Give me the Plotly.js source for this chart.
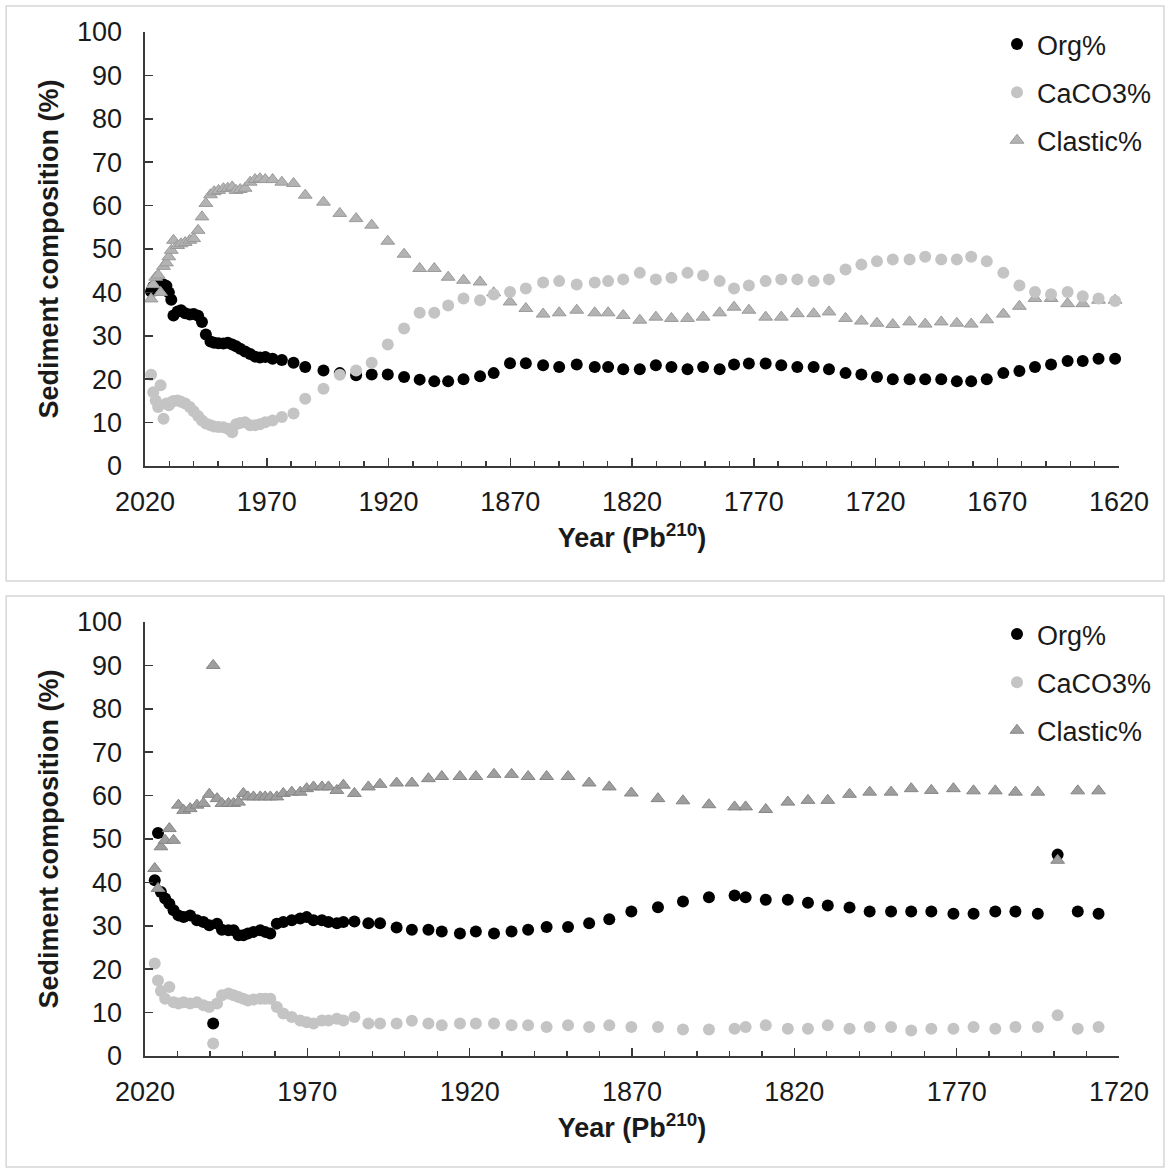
<!DOCTYPE html>
<html>
<head>
<meta charset="utf-8">
<script src="https://cdn.plot.ly/plotly-3.0.1.min.js"></script>
<style>
  html, body { margin: 0; padding: 0; background: #ffffff; }
  #chart { width: 1168px; height: 1170px; }
</style>
</head>
<body>
<div id="chart"></div>
<script>
// ---- Core 1 (upper panel), Pb-210 dated years and sediment composition ----
const coreAYears = [
  2017.5, 2016.6, 2015.6, 2014.6, 2013.6, 2012.4, 2011.2, 2010.2, 2009.2, 2008.3,
  2006.6, 2005.2, 2003.5, 2001.6, 2000.0, 1998.2, 1996.6, 1995.0, 1993.1, 1991.6,
  1989.8, 1987.8, 1986.0, 1984.2, 1982.6, 1980.9, 1978.9, 1976.8, 1974.8, 1972.8,
  1970.6, 1967.6, 1963.8, 1959.0, 1954.2, 1946.7, 1940.0, 1933.3, 1926.9, 1920.3,
  1913.6, 1907.2, 1901.2, 1895.5, 1889.2, 1882.4, 1876.8, 1870.1, 1863.6, 1856.5,
  1849.9, 1842.7, 1835.3, 1829.8, 1823.6, 1816.8, 1810.2, 1803.8, 1797.2, 1790.8,
  1784.0, 1778.1, 1772.0, 1765.1, 1758.7, 1752.1, 1745.4, 1739.1, 1732.3, 1725.8,
  1719.4, 1712.9, 1706.0, 1699.6, 1693.0, 1686.6, 1680.7, 1674.3, 1667.5, 1660.9,
  1654.5, 1647.9, 1641.1, 1634.9, 1628.4, 1621.6
];
const coreAOrg = [
  40.2, 41.3, 40.5, 42.0, 41.6, 41.8, 41.5, 40.0, 38.3, 34.7,
  35.6, 35.9, 35.2, 34.9, 35.0, 34.6, 33.2, 30.3, 28.7, 28.4,
  28.3, 28.2, 28.4, 28.0, 27.6, 27.0, 26.4, 25.8, 25.2, 25.0,
  25.1, 24.7, 24.4, 23.8, 22.8, 22.0, 21.4, 20.9, 21.1, 21.1,
  20.5, 19.9, 19.5, 19.5, 20.0, 20.7, 21.4, 23.7, 23.7, 23.2,
  22.8, 23.4, 22.8, 22.8, 22.3, 22.3, 23.2, 22.8, 22.3, 22.8,
  22.3, 23.4, 23.6, 23.6, 23.2, 22.8, 22.8, 22.3, 21.4, 21.1,
  20.5, 20.0, 20.0, 20.0, 20.0, 19.5, 19.5, 20.0, 21.4, 21.9,
  22.8, 23.4, 24.2, 24.2, 24.7, 24.7
];
const coreACaCO3 = [
  21.0, 17.0, 15.1, 13.6, 18.6, 10.9, 14.4, 14.0, 14.7, 15.0,
  15.1, 14.8, 14.4, 13.6, 12.6, 11.5, 10.5, 9.8, 9.4, 9.1,
  9.0, 8.9, 8.6, 7.8, 9.6, 9.9, 10.1, 9.4, 9.4, 9.6,
  10.1, 10.5, 11.3, 12.1, 15.5, 17.8, 21.0, 22.0, 23.8, 28.0,
  31.7, 35.3, 35.3, 37.0, 38.6, 38.2, 39.5, 40.1, 40.9, 42.3,
  42.6, 41.8, 42.3, 42.6, 43.0, 44.5, 43.0, 43.4, 44.5, 43.9,
  42.6, 40.9, 41.6, 42.6, 43.0, 43.0, 42.6, 43.0, 45.3, 46.4,
  47.2, 47.6, 47.6, 48.2, 47.6, 47.6, 48.2, 47.2, 44.5, 41.6,
  40.1, 39.6, 40.1, 39.1, 38.6, 38.0
];
const coreAClastic = [
  38.5, 41.8, 43.5, 44.0, 40.0, 46.0, 46.8, 48.2, 49.7, 52.0,
  50.8, 51.2, 51.5, 52.0, 52.4, 54.3, 57.4, 60.5, 62.5, 63.2,
  63.5, 63.9, 64.0, 64.3, 63.5, 63.7, 64.0, 65.4, 66.0, 66.2,
  66.0, 66.0, 65.4, 65.1, 62.4, 60.8, 58.2, 57.0, 55.5, 51.8,
  48.8, 45.5, 45.5, 43.5, 42.8, 42.4, 39.9, 37.8, 36.3, 35.0,
  35.3, 35.9, 35.3, 35.3, 34.7, 33.6, 34.3, 34.0, 34.0, 34.3,
  35.3, 36.6, 35.9, 34.3, 34.3, 35.1, 35.1, 35.5, 34.0, 33.4,
  32.9, 32.6, 33.2, 32.7, 33.2, 32.9, 32.7, 33.7, 35.0, 36.8,
  38.6, 38.6, 37.4, 37.4, 38.2, 38.2
];

// ---- Core 2 (lower panel) ----
const coreBYears = [
  2017.0, 2016.0, 2015.1, 2013.8, 2012.5, 2011.2, 2009.7, 2008.1, 2006.1, 2004.0,
  2002.0, 2000.2, 1999.0, 1997.8, 1996.3, 1994.3, 1992.7, 1991.2, 1989.7, 1988.3,
  1986.6, 1984.5, 1983.0, 1981.4, 1979.4, 1977.4, 1974.8, 1972.2, 1970.2, 1968.1,
  1965.5, 1963.5, 1960.9, 1958.9, 1955.5, 1951.2, 1947.6, 1942.5, 1937.8, 1932.7,
  1928.6, 1923.0, 1918.1, 1912.5, 1907.1, 1902.0, 1896.3, 1889.7, 1883.2, 1877.0,
  1870.2, 1862.0, 1854.3, 1846.3, 1838.4, 1835.0, 1828.8, 1822.0, 1815.8, 1809.7,
  1803.0, 1796.8, 1790.2, 1784.0, 1777.8, 1771.0, 1764.8, 1758.1, 1751.9, 1745.0,
  1738.9, 1732.7, 1726.3
];
const coreBOrg = [
  40.5, 51.4, 37.8, 36.3, 35.1, 33.6, 32.4, 32.0, 32.4, 31.3,
  30.9, 30.1, 7.5, 30.5, 29.1, 29.0, 29.0, 27.8, 27.8, 28.2,
  28.6, 29.0, 28.6, 28.2, 30.5, 30.9, 31.3, 31.7, 32.0, 31.3,
  31.3, 30.9, 30.6, 30.9, 31.0, 30.6, 30.6, 29.6, 29.1, 29.1,
  28.7, 28.2, 28.7, 28.2, 28.7, 29.1, 29.7, 29.7, 30.6, 31.5,
  33.3, 34.3, 35.6, 36.6, 37.0, 36.6, 36.0, 36.0, 35.3, 34.7,
  34.2, 33.3, 33.3, 33.3, 33.3, 32.8, 32.8, 33.3, 33.3, 32.8,
  46.4, 33.3, 32.8
];
const coreBCaCO3 = [
  21.3, 17.4, 15.0, 13.2, 15.9, 12.4, 12.1, 12.4, 12.1, 12.4,
  11.7, 11.3, 2.9, 12.1, 14.0, 14.4, 14.0, 13.6, 13.2, 12.8,
  13.0, 13.2, 13.2, 13.2, 11.3, 9.8, 9.0, 8.2, 7.8, 7.5,
  8.2, 8.2, 8.6, 8.2, 9.0, 7.5, 7.5, 7.5, 8.1, 7.5,
  7.1, 7.5, 7.5, 7.5, 7.1, 7.1, 6.7, 7.1, 6.7, 7.1,
  6.7, 6.7, 6.1, 6.1, 6.3, 6.7, 7.1, 6.3, 6.3, 7.1,
  6.3, 6.7, 6.7, 5.9, 6.3, 6.3, 6.7, 6.3, 6.7, 6.7,
  9.4, 6.3, 6.7
];
const coreBClastic = [
  43.2, 38.6, 48.2, 49.7, 52.4, 49.7, 57.8, 56.6, 57.0, 57.8,
  58.2, 60.3, 90.0, 59.3, 58.2, 58.2, 58.2, 58.5, 60.5, 59.7,
  59.7, 59.7, 59.7, 59.7, 59.7, 60.5, 60.8, 60.8, 61.6, 62.0,
  62.0, 62.0, 61.2, 62.4, 60.5, 62.0, 62.6, 62.9, 62.9, 63.9,
  64.4, 64.4, 64.4, 64.9, 64.9, 64.4, 64.4, 64.4, 62.9, 62.0,
  60.6, 59.3, 58.8, 57.9, 57.4, 57.4, 56.8, 58.5, 58.9, 58.9,
  60.3, 60.8, 60.8, 61.6, 61.2, 61.6, 61.1, 61.1, 60.8, 60.8,
  45.1, 61.1, 61.1
];

const seriesNames = ['Org%', 'CaCO3%', 'Clastic%'];
const yTickVals = [0, 10, 20, 30, 40, 50, 60, 70, 80, 90, 100];

// ---- page geometry (pixels) ----
const W = 1168, H = 1170;
const M = { l: 145, r: 48, t: 32, b: 114 };
const plotW = W - M.l - M.r, plotH = H - M.t - M.b;
const px2x = p => (p - M.l) / plotW;
const py2y = p => (H - M.b - p) / plotH;

const FONT = 'Liberation Sans, Arial, Helvetica, sans-serif';
const TXT = '#1a1a1a';
const AX = '#3a3a3a';

function scatter(x, y, name, style, xa, ya, legendId, rank) {
  return {
    type: 'scatter', mode: 'markers', x: x, y: y, name: name,
    xaxis: xa, yaxis: ya, legend: legendId, legendrank: rank,
    legendgroup: legendId + name,
    marker: style, hoverinfo: 'x+y+name', cliponaxis: false
  };
}

const orgStyle = { symbol: 'circle', size: 12, color: '#000000', line: { width: 0 } };
const caStyle = { symbol: 'circle', size: 12, color: '#c4c4c4', line: { width: 0 } };
const clStyleA = { symbol: 'triangle-up', size: 12, color: '#b3b3b3', line: { width: 1, color: '#9a9a9a' } };
const clStyleB = { symbol: 'triangle-up', size: 12, color: '#9e9e9e', line: { width: 1, color: '#858585' } };

// draw order: Org, Clastic, CaCO3 (legend order set by legendrank)
const data = [
  scatter(coreAYears, coreAOrg, seriesNames[0], orgStyle, 'x', 'y', 'legend', 1),
  scatter(coreAYears, coreAClastic, seriesNames[2], clStyleA, 'x', 'y', 'legend', 3),
  scatter(coreAYears, coreACaCO3, seriesNames[1], caStyle, 'x', 'y', 'legend', 2),
  scatter(coreBYears, coreBOrg, seriesNames[0], orgStyle, 'x2', 'y2', 'legend2', 1),
  scatter(coreBYears, coreBClastic, seriesNames[2], clStyleB, 'x2', 'y2', 'legend2', 3),
  scatter(coreBYears, coreBCaCO3, seriesNames[1], caStyle, 'x2', 'y2', 'legend2', 2)
];

function xAxis(range, anchor) {
  return {
    domain: [0, 1], anchor: anchor, range: range, autorange: false,
    tickmode: 'linear', tick0: range[0], dtick: 50,
    ticks: 'inside', ticklen: 8, tickwidth: 1.5, tickcolor: AX,
    minor: { dtick: 10, tick0: range[0], ticks: 'inside', ticklen: 5, tickwidth: 1.3, tickcolor: AX, showgrid: false },
    showline: true, linecolor: AX, linewidth: 1.6,
    showgrid: false, zeroline: false,
    tickfont: { family: FONT, size: 27, color: TXT },
    ticklabelstandoff: 11,
    title: { text: 'Year (Pb<sup>210</sup>)', font: { family: FONT, size: 27, color: TXT, weight: 'bold' }, standoff: 12 }
  };
}
function yAxis(domain, anchor) {
  return {
    domain: domain, anchor: anchor, range: [0, 100], autorange: false,
    tickmode: 'array', tickvals: yTickVals,
    ticks: 'inside', ticklen: 8, tickwidth: 1.5, tickcolor: AX,
    showline: true, linecolor: AX, linewidth: 1.6,
    showgrid: false, zeroline: false,
    tickfont: { family: FONT, size: 27, color: TXT },
    ticklabelstandoff: 16,
    title: { text: 'Sediment composition (%)', font: { family: FONT, size: 27, color: TXT, weight: 'bold' }, standoff: 10 }
  };
}

function legendAt(topPx) {
  return {
    x: px2x(997), y: py2y(topPx), xanchor: 'left', yanchor: 'top',
    bgcolor: 'rgba(0,0,0,0)', borderwidth: 0,
    font: { family: FONT, size: 27, color: TXT },
    itemsizing: 'trace', itemwidth: 30, traceorder: 'grouped', tracegroupgap: 10
  };
}

function frame(x0, y0, x1, y1) {
  return {
    type: 'rect', xref: 'paper', yref: 'paper', layer: 'below',
    x0: px2x(x0), x1: px2x(x1), y0: py2y(y1), y1: py2y(y0),
    line: { color: '#d6d6d6', width: 1.5 }, fillcolor: 'rgba(0,0,0,0)'
  };
}

const layout = {
  width: W, height: H,
  margin: M,
  paper_bgcolor: '#ffffff', plot_bgcolor: 'rgba(0,0,0,0)',
  font: { family: FONT, color: TXT },
  showlegend: true,
  xaxis: xAxis([2020, 1620], 'y'),
  yaxis: yAxis([py2y(466), py2y(32)], 'x'),
  xaxis2: xAxis([2020, 1720], 'y2'),
  yaxis2: yAxis([py2y(1056), py2y(622)], 'x2'),
  legend: legendAt(20),
  legend2: legendAt(610),
  shapes: [frame(6, 6, 1165, 581), frame(6, 596, 1165, 1167)]
};

Plotly.newPlot('chart', data, layout, { staticPlot: true, displayModeBar: false });
</script>
</body>
</html>
